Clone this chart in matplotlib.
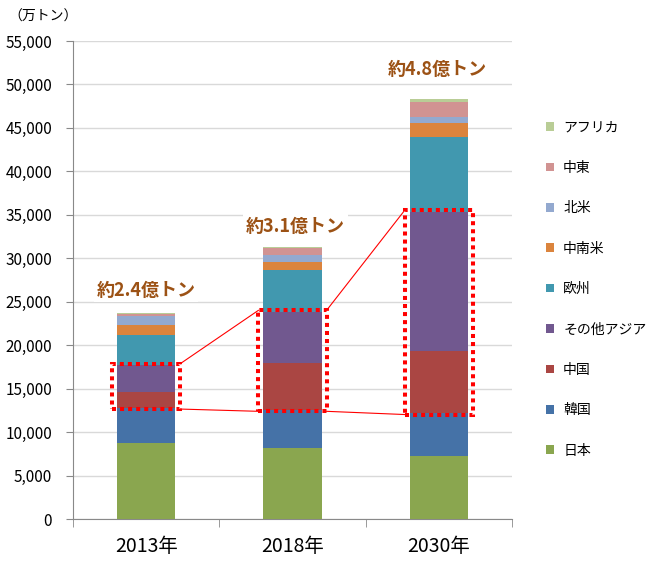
import matplotlib.pyplot as plt
import numpy as np
from matplotlib.patches import Rectangle

plt.rcParams['font.family'] = ['Noto Sans CJK JP', 'DejaVu Sans']

# data (万トン)
years = ['2013年', '2018年', '2030年']
regions = ['日本', '韓国', '中国', 'その他アジア', '欧州', '中南米', '北米', '中東', 'アフリカ']
japan = [8800, 8200, 7300]
korea = [4000, 4340, 4870]
china = [1850, 5380, 7170]
other_asia = [3070, 5940, 16040]
europe = [3450, 4790, 8630]
latin = [1150, 920, 1610]
n_america = [1080, 810, 650]
mideast = [230, 770, 1760]
africa = [60, 190, 310]
totals_text = ['約2.4億トン', '約3.1億トン', '約4.8億トン']
yticks = [0, 5000, 10000, 15000, 20000, 25000, 30000, 35000, 40000, 45000, 50000, 55000]

series = [japan, korea, china, other_asia, europe, latin, n_america, mideast, africa]
colors = ['#8AA64F', '#4572A7', '#AA4643', '#71588F', '#4198AF',
          '#DB843D', '#93A9CF', '#D19392', '#B9CD96']

fig = plt.figure(figsize=(6.52, 5.65), dpi=100)
ax = fig.add_axes([73/652, 1-519/565, (512-73)/652, (519-41)/565])

x = np.arange(len(years))
bw = 0.40
bottom = np.zeros(len(years))
handles = []
for s, c, name in zip(series, colors, regions):
    b = ax.bar(x, s, bw, bottom=bottom, color=c, label=name, zorder=3)
    handles.append(b)
    bottom += np.array(s)

ax.set_xlim(-0.5, 2.5)
ax.set_ylim(0, 55000)
ax.set_yticks(yticks)
ax.set_yticklabels(['{:,}'.format(v) for v in yticks], fontsize=11)
ax.set_xticks(x)
ax.set_xticklabels(years, fontsize=14)
ax.set_xticks([-0.5, 0.5, 1.5, 2.5], minor=True)
ax.tick_params(axis='x', which='major', length=0, pad=12)
ax.tick_params(axis='x', which='minor', length=6, color='#898989')
ax.tick_params(axis='y', length=5, color='#898989', pad=10)
ax.grid(axis='y', color='#D9D9D9', linewidth=1, zorder=0)
for sp in ['top', 'right']:
    ax.spines[sp].set_visible(False)
ax.spines['left'].set_color('#898989')
ax.spines['bottom'].set_color('#898989')

fig.text(8/652, 1-17/565, '（万トン）', fontsize=10, va='center', ha='left')

# dotted highlight boxes around 中国 + その他アジア
low = np.array(japan) + np.array(korea)
high = low + np.array(china) + np.array(other_asia)
hw = 0.233
pad = 150
for i in range(len(years)):
    r = Rectangle((x[i]-hw, low[i]-pad), 2*hw, high[i]-low[i]+2*pad, fill=False,
                  edgecolor='#FF0000', linewidth=2.9, linestyle=(0, (1, 1)), zorder=5)
    ax.add_patch(r)
for i in range(len(years)-1):
    ax.plot([x[i]+hw, x[i+1]-hw], [high[i]+pad, high[i+1]+pad], color='#FF0000', lw=0.8, zorder=4)
    ax.plot([x[i]+hw, x[i+1]-hw], [low[i]-pad, low[i+1]-pad], color='#FF0000', lw=0.8, zorder=4)

# total labels
lab_x = [0.0, 1.02, 1.99]
lab_y = [26350, 33700, 51700]
for lx, ly, t in zip(lab_x, lab_y, totals_text):
    ax.text(lx, ly, t, ha='center', va='center', fontsize=13, fontweight='bold', color='#9C5215',
            bbox=dict(facecolor='white', edgecolor='none', pad=2), zorder=6)

leg = fig.legend(handles[::-1], regions[::-1], loc='center left',
                 bbox_to_anchor=(546/652, 1-289/565), frameon=False, fontsize=10,
                 handlelength=0.58, handleheight=0.58, handletextpad=0.65,
                 labelspacing=1.9, borderpad=0, borderaxespad=0)

fig.savefig('out.png', dpi=100)
